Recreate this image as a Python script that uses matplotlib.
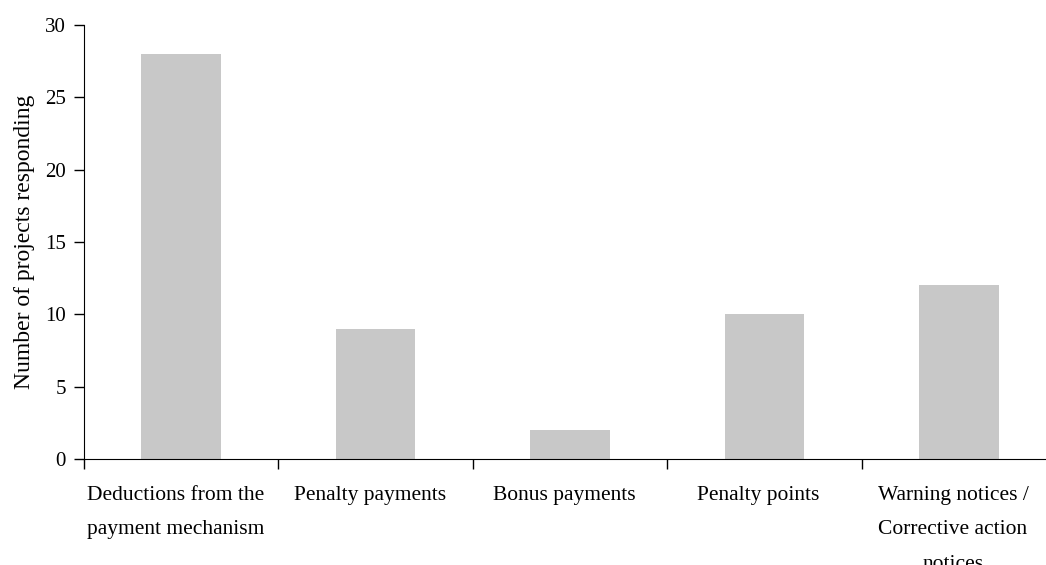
import matplotlib.pyplot as plt
import numpy as np

plt.rcParams['font.family'] = ['Liberation Serif', 'DejaVu Serif']

categories = ["Deductions from the\npayment mechanism", "Penalty payments",
              "Bonus payments", "Penalty points",
              "Warning notices /\nCorrective action\nnotices"]
values = [28, 9, 2, 10, 12]

fig = plt.figure(figsize=(10.46, 5.65), dpi=100)
# category slots are ~194.5 px wide, last one runs past the right edge
ax = fig.add_axes([84 / 1046, 1 - 459 / 565, (1056 - 84) / 1046, (459 - 25) / 565])

x = np.arange(len(values))
ax.bar(x, values, width=0.41, color='#c8c8c8')

ax.set_xlim(-0.5, len(values) - 0.5)
ax.set_ylim(0, 30)
ax.set_yticks(range(0, 31, 5))
ax.tick_params(axis='y', labelsize=15, length=7, width=1, direction='out', pad=6)

# ticks sit between categories, labels at centres
ax.set_xticks(np.arange(len(values)) - 0.5)
ax.set_xticklabels([])
ax.tick_params(axis='x', length=7, width=1, direction='out')
for i, lab in enumerate(categories):
    ax.text(i - 0.03, -1.85, lab, ha='center', va='top', multialignment='center',
            fontsize=15.5, linespacing=2.1, clip_on=False)

ax.set_ylabel("Number of projects responding", fontsize=17, labelpad=7)
ax.spines['top'].set_visible(False)
ax.spines['right'].set_visible(False)

fig.savefig('out.png', dpi=100)
